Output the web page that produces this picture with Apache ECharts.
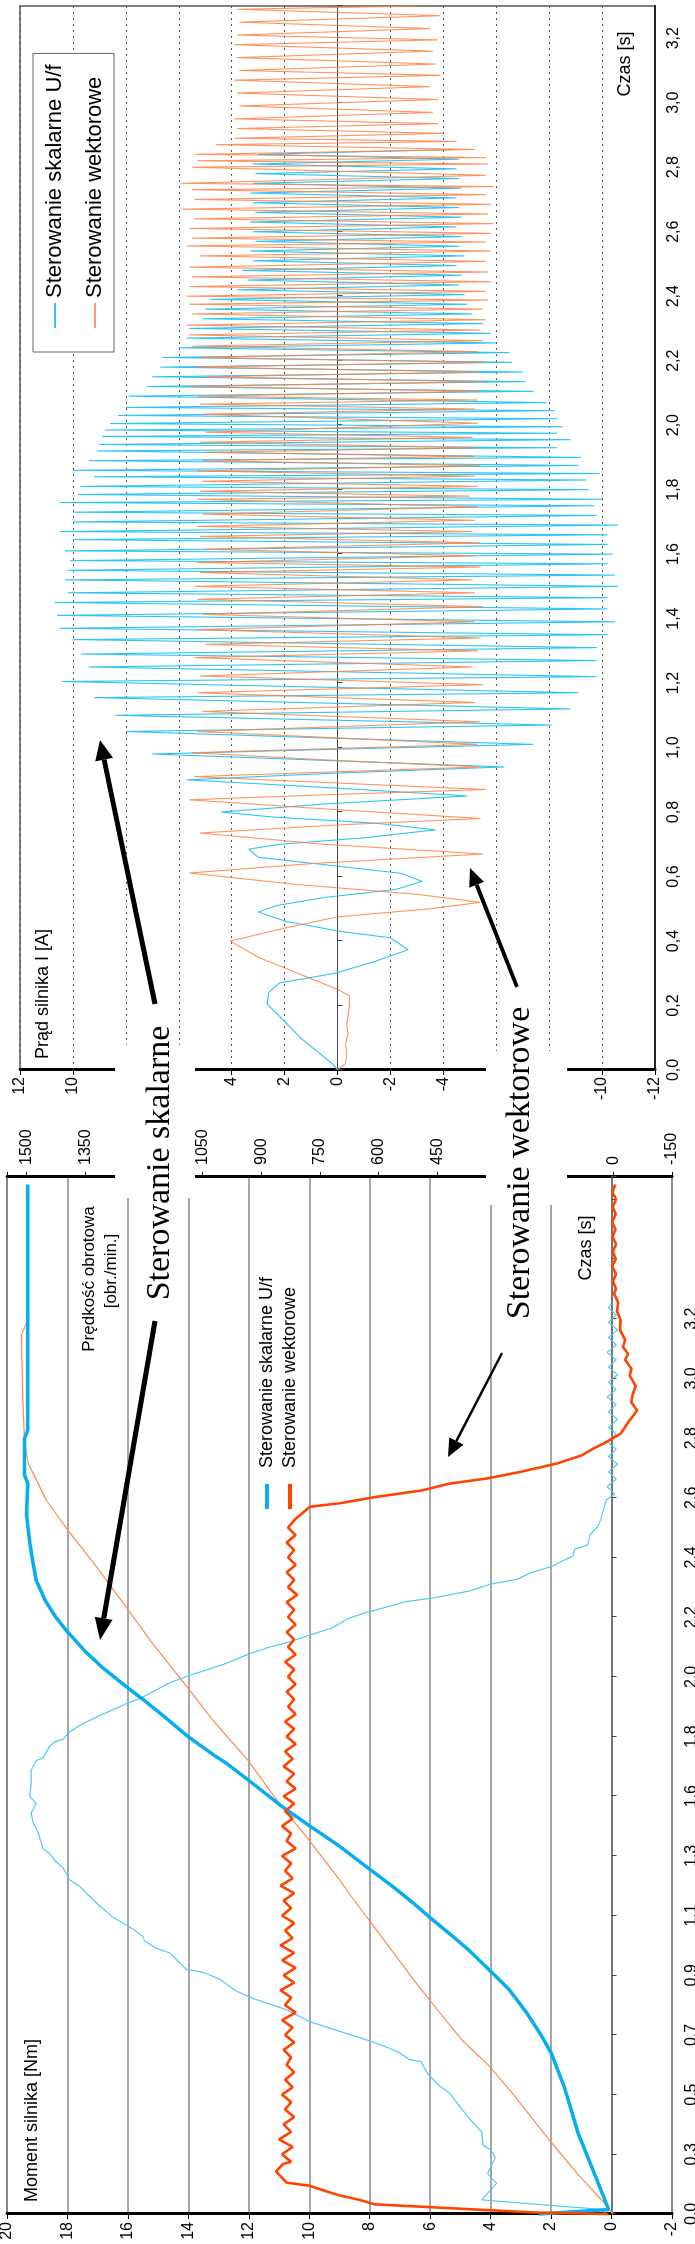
<!DOCTYPE html>
<html><head><meta charset="utf-8">
<script src="https://cdn.jsdelivr.net/npm/echarts@6.0.0/dist/echarts.min.js"></script>
<style>
html,body{margin:0;padding:0;width:695px;height:2244px;overflow:hidden;background:#fff}
#chart{position:absolute;left:0;top:0;width:2244px;height:695px;transform-origin:0 0;transform:translate(0px,2244px) rotate(-90deg);}
</style></head><body><div id="chart"></div>
<script>
// ---------- DATA ----------
// Top chart: motor current I [A] vs time [s]
const currentScalar = [
[0,0],[0.02,0.2],[0.05,0.66],[0.1,1.4],[0.155,2.05],[0.205,2.66],[0.24,2.6],[0.27,2.2],[0.3,0.1],[0.335,-1.35],[0.373,-2.67],[0.41,-2.0],[0.43,-0.1],[0.46,1.9],[0.49,3.0],[0.51,2.3],[0.535,0.5],[0.56,-2.2],[0.585,-3.2],[0.61,-2.4],[0.635,0.3],[0.66,3.0],[0.685,3.35],[0.7,2.2],[0.72,-1.0],[0.745,-3.7],[0.765,-1.5],[0.785,2.5],[0.8,4.4],[0.825,0.5],[0.85,-4.9],[0.875,0.2],[0.9,5.7],[0.92,0.3],[0.94,-6.3],[0.96,0.4],[0.98,7.0],[0.995,0.0],[1.01,-7.4],[1.03,0.5],[1.05,8.0],[1.07,-8.1],[1.1,8.4],[1.12,-8.8],[1.155,9.2],[1.17,-9.1],[1.205,10.4],[1.22,-9.8],[1.25,9.4],[1.27,-9.8],[1.29,9.7],[1.31,-9.8],[1.335,10.0],[1.35,-10.2],[1.37,10.5],[1.39,-10.5],[1.41,10.6],[1.43,-10.2],[1.45,10.7],[1.465,-10.2],[1.48,10.2],[1.5,-10.6],[1.52,10.3],[1.535,-10.5],[1.55,10.2],[1.57,-10.2],[1.58,10.1],[1.6,-10.4],[1.61,10.3],[1.63,-10.2],[1.645,10.0],[1.66,-10.2],[1.67,10.5],[1.69,-10.6],[1.7,10.0],[1.72,-9.8],[1.73,10.0],[1.75,-9.7],[1.76,10.5],[1.77,-10.0],[1.785,9.8],[1.8,-9.5],[1.81,9.7],[1.83,-9.4],[1.84,9.2],[1.85,-9.9],[1.86,10.0],[1.875,-9.1],[1.89,9.4],[1.9,-9.2],[1.92,9.1],[1.93,-8.3],[1.94,9.0],[1.955,-8.8],[1.965,8.9],[1.975,-8.3],[1.985,8.8],[1.995,-8.5],[2.005,8.6],[2.02,-8.3],[2.03,8.3],[2.045,-8.2],[2.055,8.0],[2.07,-7.9],[2.09,7.9],[2.105,-7.4],[2.12,7.2],[2.135,-7.1],[2.15,7.0],[2.165,-7.0],[2.18,6.7],[2.195,-6.6],[2.21,6.6],[2.225,-6.5],[2.24,6.0],[2.255,-6.0],[2.27,5.7],[2.285,-5.8],[2.3,5.6],[2.315,-5.5],[2.33,5.1],[2.345,-5.1],[2.36,5.0],[2.375,-4.9],[2.39,4.8],[2.405,-4.8],[2.42,3.8],[2.435,-4.6],[2.45,3.4],[2.465,-4.7],[2.48,3.6],[2.495,-4.5],[2.51,3.2],[2.525,-4.8],[2.54,3.3],[2.555,-4.6],[2.57,3.1],[2.585,-4.7],[2.6,3.2],[2.615,-4.5],[2.63,3.3],[2.645,-4.7],[2.66,3.1],[2.675,-4.6],[2.69,3.2],[2.705,-4.5],[2.72,3.3],[2.735,-4.7],[2.75,3.2],[2.765,-4.6],[2.78,3.1],[2.795,-4.5],[2.81,3.2],[2.825,-4.6],[2.84,3.0],[2.855,-4.4]
];
const currentVector = [
[0,0],[0.02,-0.3],[0.05,-0.35],[0.08,-0.3],[0.11,-0.4],[0.14,-0.35],[0.17,-0.4],[0.2,-0.45],[0.23,-0.45],[0.25,0.0],[0.3,1.5],[0.35,3.0],[0.4,4.06],[0.44,2.0],[0.475,0.0],[0.5,-3.5],[0.52,-5.4],[0.545,-3.0],[0.575,1.5],[0.611,5.6],[0.64,1.0],[0.67,-5.5],[0.7,0.5],[0.735,5.2],[0.76,0.0],[0.78,-5.4],[0.81,0.5],[0.838,5.6],[0.855,0.0],[0.87,-5.6],[0.89,0.0],[0.91,5.4],[0.925,0.0],[0.94,-5.4],[0.96,0.0],[0.984,5.5],[1.01,-5.3],[1.05,5.3],[1.08,-5.4],[1.112,5.1],[1.14,-5.2],[1.17,5.3],[1.195,-5.5],[1.222,5.2],[1.25,-5.1],[1.279,5.4],[1.3,-5.3],[1.32,5.0],[1.34,-5.4],[1.366,5.3],[1.39,-5.2],[1.413,5.1],[1.437,-5.5],[1.46,5.3],[1.48,-5.2],[1.5,5.4],[1.52,-5.1],[1.543,5.2],[1.56,-5.4],[1.574,5.3],[1.595,-5.2],[1.615,5.0],[1.635,-5.4],[1.655,5.2],[1.67,-5.1],[1.686,5.3],[1.705,-5.2],[1.724,5.1],[1.747,-5.3],[1.77,5.3],[1.78,-5.0],[1.795,5.2],[1.81,-5.3],[1.826,5.1],[1.842,-5.2],[1.858,5.3],[1.874,-5.4],[1.89,5.1],[1.903,-5.2],[1.916,5.0],[1.93,-5.3],[1.947,5.2],[1.962,-5.1],[1.978,5.0],[2.006,-5.3],[2.034,5.1],[2.05,-5.2],[2.065,5.2],[2.078,-5.3],[2.09,5.3],[2.105,-5.4],[2.12,5.6],[2.135,-5.5],[2.15,5.0],[2.165,-5.4],[2.18,5.4],[2.195,-5.6],[2.21,5.2],[2.228,-5.3],[2.245,5.5],[2.262,-5.5],[2.28,5.6],[2.295,-5.4],[2.31,5.7],[2.327,-5.6],[2.345,5.5],[2.36,-5.5],[2.375,5.6],[2.388,-5.7],[2.4,5.7],[2.415,-5.6],[2.43,5.6],[2.445,-5.8],[2.46,5.5],[2.475,-5.7],[2.49,5.6],[2.508,-5.6],[2.525,5.2],[2.54,-5.8],[2.556,5.7],[2.568,-5.6],[2.58,5.5],[2.595,-5.8],[2.61,5.6],[2.625,-5.9],[2.64,5.4],[2.655,-5.7],[2.67,5.9],[2.685,-5.8],[2.7,5.4],[2.715,-5.6],[2.73,5.5],[2.74,-5.9],[2.75,5.9],[2.775,-5.6],[2.8,5.5],[2.81,-5.7],[2.82,5.3],[2.83,-5.6],[2.84,5.4],[2.855,-5.2],[2.87,4.6],[2.88,-4.5],[2.89,3.9],[2.905,-4.0],[2.92,3.8],[2.935,-3.8],[2.95,3.9],[2.97,-3.6],[2.99,3.7],[3.01,-3.8],[3.03,3.8],[3.05,-3.5],[3.07,3.9],[3.085,-3.9],[3.1,3.7],[3.12,-3.7],[3.14,3.8],[3.16,-3.6],[3.18,3.9],[3.195,-3.8],[3.21,3.8],[3.23,-3.5],[3.25,3.7],[3.27,-3.9],[3.29,3.8],[3.3,-3.0]
];

// Bottom chart: x = sample (category) index, 8 samples per labelled tick
const bottomTimeLabels = ['0,0','0,3','0,5','0,7','0,9','1,1','1,3','1,6','1,8','2,0','2,2','2,4','2,6','2,8','3,0','3,2'];
// Speed [obr./min.]
const speedScalar = [
[0,190],[0.6,12],[5,45],[11,91],[17,125],[21.6,159],[24,185],[27,222],[30,265],[32.1,305],[35.3,368],[37.2,410],[39.8,470],[41.7,512],[43.9,564],[46.1,620],[49.3,700],[51.8,770],[54.7,849],[58.2,934],[60.4,989],[61.4,1018],[63.9,1085],[66.8,1151],[69,1203],[70.3,1236],[73.2,1305],[75.4,1350],[78.2,1398],[80.2,1428],[82.4,1454],[84.9,1475],[87.5,1484],[90,1492],[93.8,1500],[98,1497],[99,1505],[104,1505],[105,1497],[138,1497]
];
const speedVector = [
[0,0],[1,15],[5,85],[10,165],[16,255],[20,320],[23.2,385],[27,444],[31.5,512],[36.9,589],[42,662],[44.8,700],[50.6,785],[54.4,845],[60.8,934],[66.2,1024],[71.6,1104],[76.7,1181],[81.7,1250],[86.8,1322],[91.9,1398],[95.7,1450],[98.4,1475],[100.5,1495],[103.3,1505],[110,1510],[117.8,1513],[119.5,1500],[134.4,1500]
];
// Torque [Nm]
const torqueScalar = [
[0,0.2],[0.6,0.3],[1.9,4.3],[4.1,3.8],[5.4,4.1],[7.6,3.85],[8.6,4.0],[9.2,4.25],[11,4.3],[13,4.75],[16.2,5.36],[17.2,5.7],[18.8,6.08],[20.4,6.3],[20.7,6.68],[21.6,7.0],[22.3,7.4],[23.2,8.0],[24.5,9.0],[25.8,10.0],[27.4,10.76],[28.9,11.87],[29.9,12.42],[31.5,12.97],[32.4,13.52],[32.8,14.07],[35,14.62],[35.6,15.06],[36.6,15.45],[37.2,15.5],[38.2,15.84],[39.8,16.5],[41.3,16.94],[42.6,17.27],[43.9,17.6],[44.8,17.93],[46.4,18.15],[47.4,18.42],[48.3,18.59],[49,18.81],[51.2,18.98],[52.5,19.14],[53.8,19.2],[55,19.03],[56,19.25],[57.6,19.2],[59.5,19.2],[60.8,19.03],[61.1,18.81],[62.7,18.59],[63.3,18.42],[63.6,18.15],[64.6,17.93],[65.5,17.6],[66.8,16.94],[68.4,16.05],[69.3,15.5],[71.2,14.62],[72.2,13.96],[73.2,13.19],[73.8,12.75],[75.1,11.98],[76,11.31],[76.7,10.65],[77.6,9.99],[78.6,9.22],[79.8,8.72],[80.5,8.23],[81.1,7.67],[82.1,6.79],[82.5,6.02],[83.5,4.7],[84.4,4.04],[85.1,3.1],[85.9,2.71],[86.8,1.99],[88.2,1.28],[89.1,1.22],[89.7,0.78],[91,0.72],[92.2,0.45],[93.2,0.35],[95.7,0.18],[96.5,-0.1],[97.5,0.15],[98.5,-0.15],[99.5,0.1],[100.5,-0.2],[101.5,0.1],[102.5,-0.15],[103.5,0.15],[104.5,-0.15],[105.5,0.1],[106.5,-0.2],[107.5,0.1],[108.5,-0.15],[109.5,0.15],[110.5,-0.15],[111.5,0.1],[112.5,-0.2],[113.5,0.1],[114.5,-0.15],[115.5,0.15],[116.5,-0.15],[117.5,0.1],[118.5,-0.2],[119.5,0.1],[120.5,-0.15],[121.5,0.1],[122,0]
];
const torqueVector = [
[0,0.1],[0.2,2.55],[1.3,7.84],[1.9,8.34],[2.5,9.0],[2.9,9.33],[3.8,10.0],[4.2,10.75],[5.7,11.1],[6.7,10.87],
[7,10.6],[8,10.9],[9,10.55],[10,11.0],[11,10.6],[12,10.85],[13,10.5],[14,10.8],[15,10.6],[16,10.9],[17,10.55],[18,10.8],[19,10.5],[20,10.75],[21,10.6],[22,10.85],[23,10.5],[24,10.8],[25,10.55],[26,10.9],[27,10.45],[28,10.8],[29,10.6],[30,10.95],[31,10.5],[32,10.85],[33,10.45],[34,10.9],[35,10.5],[36,10.95],[37,10.55],[38,10.8],[39,10.5],[40,10.9],[41,10.6],[42,10.85],[43,10.5],[44,10.95],[45,10.55],[46,10.8],[47,10.6],[48,10.9],[49,10.45],[50,10.75],[51,10.6],[52,10.9],[53,10.55],[54,10.8],[55,10.5],[56,10.85],[57,10.45],[58,10.75],[59,10.5],[60,10.85],[61,10.55],[62,10.8],[63,10.45],[64,10.75],[65,10.5],[66,10.8],[67,10.45],[68,10.7],[69,10.5],[70,10.75],[71,10.45],[72,10.7],[73,10.5],[74,10.8],[75,10.45],[76,10.7],[77,10.5],[78,10.75],[79,10.45],[80,10.7],[81,10.5],[82,10.75],[83,10.4],[84,10.7],[85,10.5],[86,10.75],[87,10.45],[88,10.7],[89,10.5],[90,10.75],[91,10.45],[92,10.7],[93,10.5],
[94.8,9.98],[95.3,8.94],[96.1,7.82],[97,6.26],[97.9,5.37],[98.6,4.1],[99.5,2.99],[100.6,1.8],[101.7,0.98],[102.6,0.6],[103.3,0.25],[104.6,-0.3],[106.4,-0.6],[107.7,-0.85],[108.8,-0.65],[109.9,-0.7],[111,-0.8],[112.4,-0.6],[113.3,-0.66],[114.5,-0.45],[115.3,-0.55],[116.2,-0.38],[117.2,-0.45],[118.5,-0.28],[119.8,-0.3],[121,-0.18],[122.2,-0.22],[123.4,-0.08],[124,-0.15],[125,-0.05],[126,-0.15],[127,-0.02],[128,-0.14],[129,-0.04],[130,-0.15],[131,-0.03],[132,-0.13],[133,-0.02],[134,-0.14],[135,-0.04],[136,-0.15],[137,-0.03],[138,-0.12]
];

// ---------- STYLE ----------
const SANS = '"Liberation Sans", Arial, sans-serif';
const SERIF = '"Liberation Serif", "Times New Roman", serif';
const C_BLUE_THIN = '#2EC5F5', C_ORANGE_THIN = '#FF8145';
const C_BLUE_THICK = '#04AEEF', C_ORANGE_THICK = '#FF4300';
const NAME_S = 'Sterowanie skalarne U/f', NAME_W = 'Sterowanie wektorowe';

function timeFmt(v){ const k=Math.round(v/0.2); return Math.abs(v-k*0.2)<1e-6 ? (k*0.2).toFixed(1).replace('.', ',') : ''; }
function idxFmt(v){ const k=v/8; return (Number.isInteger(k) && k<bottomTimeLabels.length) ? bottomTimeLabels[k] : ''; }

function arrow(tail, tip, w, headLen, headHalf){
  const dx=tip[0]-tail[0], dy=tip[1]-tail[1], L=Math.hypot(dx,dy), ux=dx/L, uy=dy/L;
  const bx=tip[0]-ux*headLen, by=tip[1]-uy*headLen, px=-uy, py=ux;
  return [
    {type:'line', silent:true, z:110, shape:{x1:tail[0],y1:tail[1],x2:bx,y2:by}, style:{stroke:'#000',lineWidth:w}},
    {type:'polygon', silent:true, z:110, shape:{points:[tip,[bx+px*headHalf,by+py*headHalf],[bx-px*headHalf,by-py*headHalf]]}, style:{fill:'#000'}}
  ];
}
function txt(x,y,text,size,align,family){
  return {type:'text', silent:true, z:105, x:x, y:y, style:{text:text, fill:'#000', fontSize:size, fontFamily:family||SANS, align:align||'center', verticalAlign:'middle', textAlign:align||'center', textVerticalAlign:'middle'}};
}

const graphics = [
  {type:'rect', silent:true, z:100, shape:{x:1046,y:115,width:153,height:80}, style:{fill:'#fff'}},
  {type:'rect', silent:true, z:100, shape:{x:1039,y:486,width:154,height:81}, style:{fill:'#fff'}},
  txt(1081,160,'Sterowanie skalarne',34,'center',SERIF),
  txt(1081,520,'Sterowanie wektorowe',34,'center',SERIF),
  txt(1185,43,'Prąd silnika I [A]',18,'left'),
  txt(2180,625,'Czas [s]',18,'center'),
  txt(996,586,'Czas [s]',18,'center'),
  txt(42,32,'Moment silnika [Nm]',18,'left'),
  txt(965,89,'Prędkość obrotowa',17,'center'),
  txt(973,111,'[obr./min.]',17,'center')
].concat(
  arrow([1240,155],[1504,100],5,20,9),
  arrow([923,155],[604,100],5,22,9),
  arrow([1257,517],[1376,470],4,18,8),
  arrow([891,502],[787,448],2.5,18,8)
);

const axLabel = {color:'#000', fontSize:16, fontFamily:SANS};

const option = {
  animation:false,
  backgroundColor:'#fff',
  grid:[
    {left:1174, right:6, top:20, bottom:40, show:true, borderColor:'#808080', borderWidth:2, outerBoundsMode:'none', containLabel:false},
    {left:30, right:1177, top:7, bottom:23, show:true, borderColor:'#808080', borderWidth:2, outerBoundsMode:'none', containLabel:false}
  ],
  xAxis:[
    {gridIndex:0, type:'value', min:0, max:3.3, interval:0.2, position:'bottom',
     axisLine:{onZero:false, lineStyle:{color:'#222', width:2}}, axisTick:{show:false},
     axisLabel:Object.assign({formatter:timeFmt, margin:11}, axLabel), splitLine:{show:false}},
    {gridIndex:0, type:'value', min:0, max:3.3, interval:0.2, position:'bottom',
     axisLine:{onZero:true, onZeroAxisIndex:0, lineStyle:{color:'#444', width:1}},
     axisTick:{show:true, length:5, lineStyle:{color:'#444'}}, axisLabel:{show:false}, splitLine:{show:false}},
    {gridIndex:1, type:'value', min:0, max:139, interval:8, position:'bottom',
     axisLine:{onZero:true, onZeroAxisIndex:1, lineStyle:{color:'#666', width:1.5}},
     axisTick:{show:true, length:5, lineStyle:{color:'#444'}},
     axisLabel:Object.assign({formatter:idxFmt, margin:12}, axLabel), splitLine:{show:false}}
  ],
  yAxis:[
    {gridIndex:0, type:'value', min:-12, max:12, interval:2, position:'left',
     axisLine:{show:true, onZero:false, lineStyle:{color:'#000', width:3}},
     axisTick:{show:true, length:5, lineStyle:{color:'#000'}},
     axisLabel:Object.assign({formatter:v=>String(v), margin:7}, axLabel),
     splitLine:{show:true, lineStyle:{type:[2,4], color:'#555', width:1}}},
    {gridIndex:1, type:'value', min:-2, max:20, interval:2, position:'left',
     axisLine:{show:true, onZero:false, lineStyle:{color:'#000', width:3}},
     axisTick:{show:true, length:5, lineStyle:{color:'#000'}},
     axisLabel:Object.assign({formatter:v=>String(v), margin:8}, axLabel),
     splitLine:{show:true, lineStyle:{color:'#8a8a8a', width:1.5}}},
    {gridIndex:1, type:'value', min:-150, max:1550, interval:150, position:'right',
     axisLine:{show:true, onZero:false, lineStyle:{color:'#000', width:3}},
     axisTick:{show:true, length:5, lineStyle:{color:'#000'}},
     axisLabel:Object.assign({formatter:v=>(v>1500?'':String(v)), margin:12}, axLabel),
     splitLine:{show:false}}
  ],
  legend:[
    {orient:'vertical', left:1892, top:33, padding:[11,11,8,24], itemGap:18, itemWidth:25, itemHeight:2,
     backgroundColor:'#fff', borderColor:'#666', borderWidth:1, selectedMode:false, z:20,
     textStyle:{color:'#000', fontSize:22, lineHeight:22, fontFamily:SANS},
     data:[{name:NAME_S, icon:'rect', itemStyle:{color:C_BLUE_THIN}}, {name:NAME_W, icon:'rect', itemStyle:{color:'#FF9A6A'}}]},
    {orient:'vertical', left:735, top:258, padding:0, itemGap:5, itemWidth:25, itemHeight:4, selectedMode:false,
     textStyle:{color:'#000', fontSize:18, lineHeight:18, fontFamily:SANS, padding:[0,0,0,11]},
     data:[{name:NAME_S, icon:'rect', itemStyle:{color:C_BLUE_THICK}}, {name:NAME_W, icon:'rect', itemStyle:{color:C_ORANGE_THICK}}]}
  ],
  graphic:{elements:graphics},
  series:[
    {name:NAME_S, type:'line', xAxisIndex:0, yAxisIndex:0, data:currentScalar, symbol:'none', z:2,
     lineStyle:{color:C_BLUE_THIN, width:1.1}, itemStyle:{color:C_BLUE_THIN}},
    {name:NAME_W, type:'line', xAxisIndex:0, yAxisIndex:0, data:currentVector, symbol:'none', z:3,
     lineStyle:{color:C_ORANGE_THIN, width:1.1, opacity:0.85}, itemStyle:{color:C_ORANGE_THIN}},
    {name:NAME_S, type:'line', xAxisIndex:2, yAxisIndex:1, data:torqueScalar, symbol:'none', z:2,
     lineStyle:{color:'#4CCBF6', width:1.2}},
    {name:NAME_W, type:'line', xAxisIndex:2, yAxisIndex:2, data:speedVector, symbol:'none', z:2,
     lineStyle:{color:'#FF8A55', width:1.2}},
    {name:NAME_S, type:'line', xAxisIndex:2, yAxisIndex:2, data:speedScalar, symbol:'none', z:3,
     lineStyle:{color:C_BLUE_THICK, width:3.5}},
    {name:NAME_W, type:'line', xAxisIndex:2, yAxisIndex:1, data:torqueVector, symbol:'none', z:4,
     lineStyle:{color:C_ORANGE_THICK, width:2.6}}
  ]
};
const chart = echarts.init(document.getElementById('chart'), null, {renderer:'canvas', width:2244, height:695});
chart.setOption(option);
</script></body></html>
